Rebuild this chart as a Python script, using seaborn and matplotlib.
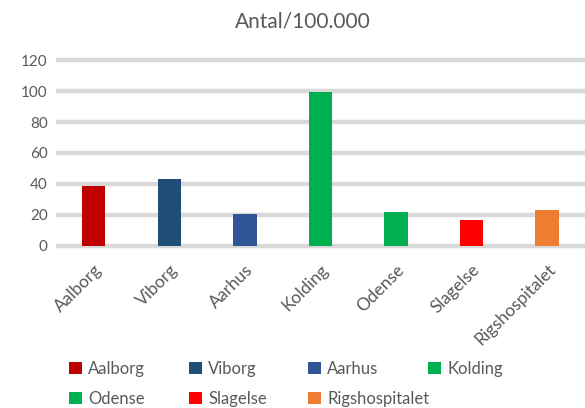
import matplotlib
matplotlib.use("Agg")
import matplotlib.pyplot as plt
import seaborn as sns
import pandas as pd
from matplotlib.patches import Patch

categories = ["Aalborg", "Viborg", "Aarhus", "Kolding", "Odense", "Slagelse", "Rigshospitalet"]
values = [38.6, 43.0, 20.7, 99.5, 22.0, 17.0, 23.3]
colors = ["#C00000", "#1F4E79", "#2F5597", "#00B050", "#00B050", "#FF0000", "#ED7D31"]
yticks = [0, 20, 40, 60, 80, 100, 120]
title = "Antal/100.000"

sns.set_theme(style="white")
plt.rcParams['font.family'] = ['Lato', 'DejaVu Sans']
txt = "#595959"

W, H = 585, 408
df = pd.DataFrame({"cat": categories, "val": values})
fig = plt.figure(figsize=(W / 100, H / 100), dpi=100)
ax = fig.add_axes([0.0957, 0.3895, 0.9043, 0.471])
sns.barplot(data=df, x="cat", y="val", hue="cat", palette=colors, width=0.31,
            dodge=False, legend=False, ax=ax, saturation=1, zorder=3, linewidth=0)
ax.set_ylim(-2, 122)
ax.set_xlim(-0.5, len(categories) - 0.5)
ax.set_yticks(yticks)
ax.set_yticklabels([str(t) for t in yticks], fontsize=11, color=txt)
ax.yaxis.grid(True, color="#D9D9D9", linewidth=3.2, zorder=0)
ax.xaxis.grid(False)
ax.set_axisbelow(True)
for s in ax.spines.values():
    s.set_visible(False)
ax.tick_params(axis="both", length=0, pad=6)
ax.set_xlabel("")
ax.set_ylabel("")
ax.set_xticks(range(len(categories)))
ax.set_xticklabels(categories, rotation=45, ha="right", rotation_mode="anchor",
                   fontsize=12.5, color=txt)
ax.tick_params(axis="x", pad=9)
fig.text(0.518, 0.948, title, ha="center", va="center", fontsize=15, color=txt)

# legend: 4 columns x 2 rows, row-major, fixed column positions
col_x = [69, 189, 308, 428]
row_y = [369, 399]
for i, (cat, col) in enumerate(zip(categories, colors)):
    r, c = divmod(i, 4)
    leg = fig.legend([Patch(facecolor=col, edgecolor="none")], [cat],
                     loc="center left",
                     bbox_to_anchor=(col_x[c] / W, 1 - row_y[r] / H),
                     frameon=False, fontsize=12, handlelength=0.75,
                     handleheight=0.75, handletextpad=0.4,
                     borderpad=0, borderaxespad=0)
    for t in leg.get_texts():
        t.set_color(txt)

fig.savefig("out.png", dpi=100)
